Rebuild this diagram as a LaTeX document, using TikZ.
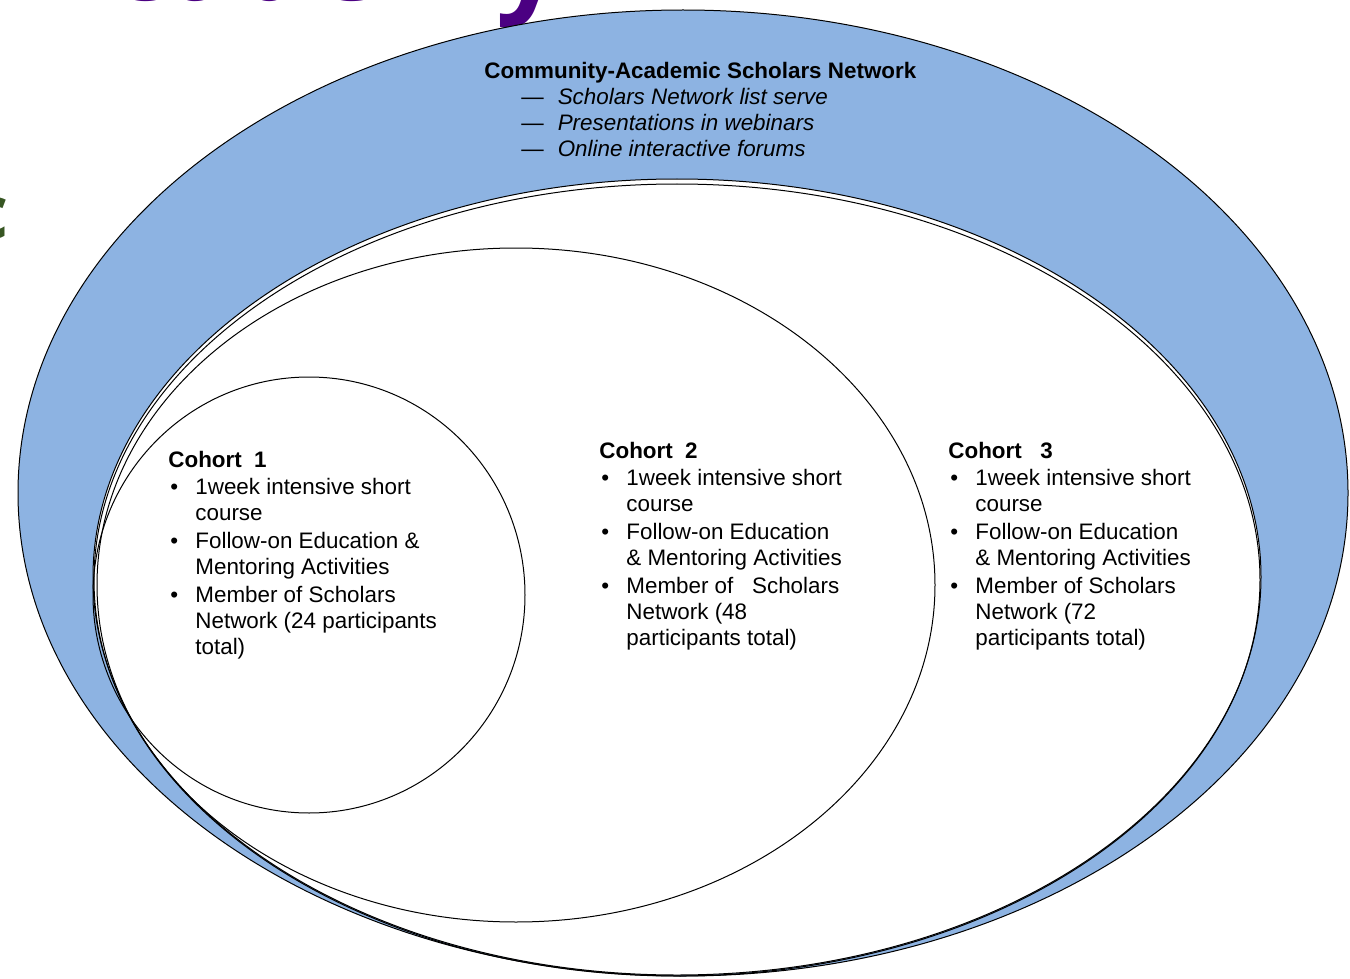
\documentclass[tikz,border=0pt]{standalone}
\usepackage{fontspec}
\setmainfont{Liberation Sans}
\newfontfamily\slidefont{Open Sans}

\definecolor{netblue}{HTML}{8DB3E2}
\definecolor{slidepurple}{HTML}{4B0082}
\definecolor{slidegreen}{HTML}{375623}

\tikzset{
  ring/.style={draw=black, line width=0.5pt},
  cohort/.style={anchor=base west, inner sep=0pt, font=\fontsize{11.2}{13}\selectfont},
}

\newcommand{\itm}[1]{\noalign{\vskip 0.9pt}\hspace{1pt}\textbullet & #1\\}
\newcommand{\cnt}[1]{& #1\\}

\begin{document}
\begin{tikzpicture}[x=0.5pt,y=-0.5pt]

    \useasboundingbox (0,0) rectangle (1350,979);

    % Reste de la diapositive
    \begin{scope}
        \clip (0,0) rectangle (1350,979);
        \node[anchor=base west, inner sep=0pt, text=slidepurple,
              font=\slidefont\bfseries\fontsize{58}{59}\selectfont] (slidetitle) at (30,0.5) {Academy};
        \node[anchor=base east, inner sep=0pt, text=slidegreen,
              font=\slidefont\bfseries\fontsize{37}{38}\selectfont] (slideletter) at (9,238) {c};
    \end{scope}

    % ---- Ellipses ----
    % Network
    \draw[ring, fill=netblue] (683,493) ellipse [x radius=665, y radius=483];
    % Cohorte 3
    \draw[ring, fill=white] (677,577) ellipse [x radius=584, y radius=398];
    \draw[ring] (677,580) ellipse [x radius=583, y radius=396];
    % Cohorte 2
    \draw[ring] (516,585) ellipse [x radius=419, y radius=337];
    % Cohorte 1
    \draw[ring] (309,595) ellipse [x radius=216, y radius=218];

    % ---- Textes ----
    \node[cohort] (network) at (484,79) {%
        \begin{tabular}[t]{@{\hspace{18.5pt}}l@{\hspace{7pt}}l@{}}
            \multicolumn{2}{@{}l@{}}{\textbf{Community-Academic Scholars Network}}\\
            — & \textit{Scholars Network list serve}\\
            — & \textit{Presentations in webinars}\\
            — & \textit{Online interactive forums}\\
        \end{tabular}};

    \node[cohort] (cohort1) at (168,467) {%
        \begin{tabular}[t]{@{}p{13.5pt}@{}l@{}}
            \multicolumn{2}{@{}l@{}}{\textbf{Cohort\ \ 1}}\\
            \itm{1week intensive short}
            \cnt{course}
            \itm{Follow-on Education \&}
            \cnt{Mentoring Activities}
            \itm{Member of Scholars}
            \cnt{Network (24 participants}
            \cnt{total)}
        \end{tabular}};

    \node[cohort] (cohort2) at (599,458) {%
        \begin{tabular}[t]{@{}p{13.5pt}@{}l@{}}
            \multicolumn{2}{@{}l@{}}{\textbf{Cohort\ \ 2}}\\
            \itm{1week intensive short}
            \cnt{course}
            \itm{Follow-on Education}
            \cnt{\& Mentoring Activities}
            \itm{Member of\ \ \ Scholars}
            \cnt{Network (48}
            \cnt{participants total)}
        \end{tabular}};

    \node[cohort] (cohort3) at (948,458) {%
        \begin{tabular}[t]{@{}p{13.5pt}@{}l@{}}
            \multicolumn{2}{@{}l@{}}{\textbf{Cohort\ \ \ 3}}\\
            \itm{1week intensive short}
            \cnt{course}
            \itm{Follow-on Education}
            \cnt{\& Mentoring Activities}
            \itm{Member of Scholars}
            \cnt{Network (72}
            \cnt{participants total)}
        \end{tabular}};

\end{tikzpicture}
\end{document}
